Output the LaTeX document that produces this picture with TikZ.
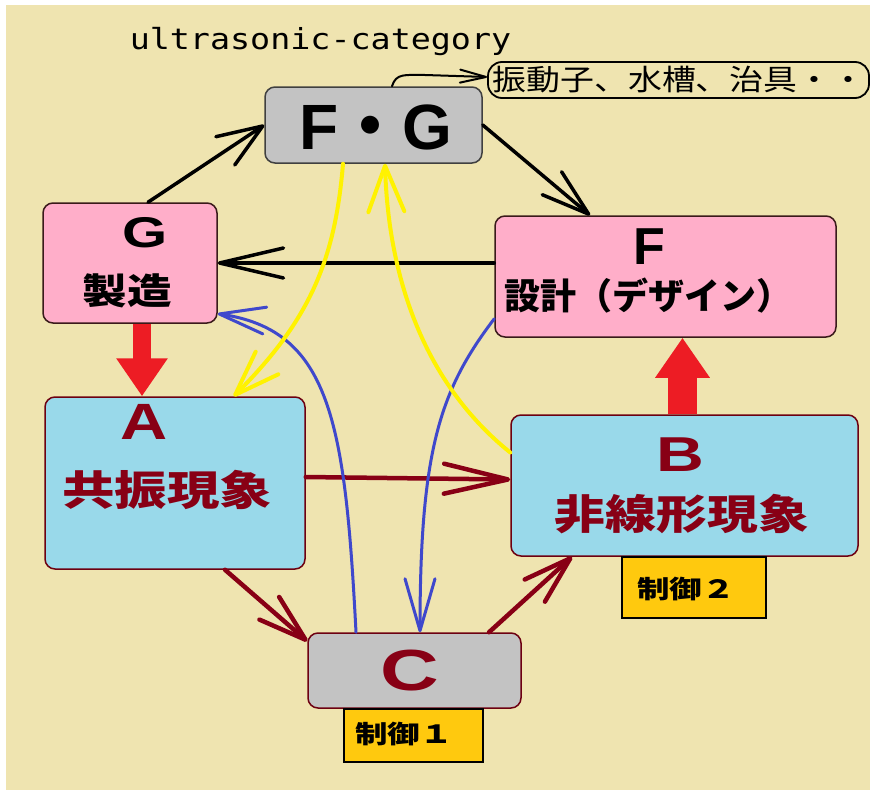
\documentclass[tikz,border=0pt]{standalone}
\usepackage{fontspec}
\usepackage{graphicx}
\setmainfont{Liberation Sans}
\newfontfamily\jp{Noto Sans CJK JP}
\newfontfamily\monof{DejaVu Sans Mono}
\usetikzlibrary{arrows.meta,calc}
\newcommand\hstretch[2]{\scalebox{#1}[1]{#2}}
\newcommand\fsz[1]{\fontsize{#1}{#1}\selectfont}
\definecolor{bgc}{HTML}{EFE4B0}
\definecolor{pinkc}{HTML}{FFAEC9}
\definecolor{bluebox}{HTML}{99D9EA}
\definecolor{grayc}{HTML}{C3C3C3}
\definecolor{redc}{HTML}{ED1C24}
\definecolor{darkredc}{HTML}{880015}
\definecolor{yellowc}{HTML}{FFF200}
\definecolor{goldc}{HTML}{FFC90E}
\definecolor{bluec}{HTML}{3F48CC}
\definecolor{edgec}{HTML}{3A1A1A}
\begin{document}
\begin{tikzpicture}[x=1pt,y=-1pt,
  box/.style={draw=edgec, rounded corners=10pt, inner sep=0pt, line width=1.5pt},
  ctrlbox/.style={draw=black, fill=goldc, line width=2.6pt, inner sep=0pt},
  txt/.style={inner sep=0pt, anchor=center},
  blk/.style={draw=black, line width=3.5pt, line cap=round},
  dred/.style={draw=darkredc, line width=4.5pt, line cap=round},
  blu/.style={draw=bluec, line width=3pt, line cap=round},
  yel/.style={draw=yellowc, line width=4pt, line cap=round},
  barbA/.style={-{Straight Barb[length=45pt,width=34pt,round]}},
  barbL/.style={-{Straight Barb[length=64pt,width=30pt,round]}},
  barbM/.style={-{Straight Barb[length=48pt,width=30pt,round]}},
  blockarrow/.style={draw=redc, line cap=butt}
]
\fill[white] (0,0) rectangle (872,792);
\fill[bgc] (6,5) rectangle (870,790);
\useasboundingbox (0,0) rectangle (872,792);

% boxes
\node[box, fill=grayc, draw=black!75, minimum width=217pt, minimum height=76pt] (FG) at (373.5,125) {};
\node[box, fill=pinkc, minimum width=174pt, minimum height=120pt] (G) at (130,263) {};
\node[box, fill=pinkc, minimum width=341pt, minimum height=121pt] (F) at (665.5,276.5) {};
\node[box, fill=bluebox, draw=darkredc!80!black, minimum width=260pt, minimum height=172pt] (A) at (175,483) {};
\node[box, fill=bluebox, draw=darkredc!80!black, minimum width=347pt, minimum height=141pt] (B) at (684.5,485.5) {};
\node[box, fill=grayc, draw=darkredc!80!black, minimum width=213pt, minimum height=75pt] (C) at (414.5,670.5) {};
\node[ctrlbox, minimum width=139pt, minimum height=53pt] (K1) at (413.5,735.5) {};
\node[ctrlbox, minimum width=144pt, minimum height=61pt] (K2) at (694,587.5) {};
\node[draw=black, rounded corners=14pt, line width=1.8pt, inner sep=0pt, minimum width=381pt, minimum height=36pt] (P) at (678.5,80) {};

% red block arrows
\draw[blockarrow, line width=18pt, -{Triangle[length=38pt,width=49pt]}] ([xshift=12pt]G.south) -- ([xshift=12pt]G.south |- A.north);
\draw[blockarrow, line width=29pt, -{Triangle[length=40pt,width=52pt]}] ([xshift=-2pt]B.north) -- ([xshift=-2pt]B.north |- F.south);

% black connectors
\draw[blk, barbA] ([xshift=18pt]G.north) -- (FG.west);
\draw[blk, barbM] (FG.east) -- ([xshift=-75.5pt]F.north);
\draw[blk, barbL] (F.west |- G.east) -- (G.east);
\coordinate (Pin) at ([yshift=3pt]P.west);
\draw[black, line width=2pt, line cap=round, -{Straight Barb[length=26pt,width=13pt,round]}]
  ([xshift=18.5pt]FG.north) .. controls (396,73) and (405,75) .. (425,75) -- (Pin);

% dark red connectors
\draw[dred, barbL] ([yshift=6pt]A.east) -- ([yshift=6pt]B.west);
\draw[dred, barbM] ([xshift=50pt]A.south) -- ([yshift=-9pt]C.north west);
\draw[dred, barbM] ([xshift=74.5pt]C.north) -- ([xshift=-112.5pt]B.south);

% blue connectors
\draw[blu, -{Straight Barb[length=46pt,width=27pt,round]}]
  ([xshift=-58.5pt]C.north) .. controls (345,420) and (330,330) .. ([yshift=10pt]G.south east);
\draw[blu, -{Straight Barb[length=52pt,width=30pt,round]}]
  ([yshift=19pt]F.south west) .. controls (440,390) and (420,450) .. ([xshift=5.5pt]C.north);

% yellow connectors
\draw[yel, -{Straight Barb[length=45pt,width=32pt,round]}]
  ([xshift=-30.5pt]FG.south) .. controls (335,260) and (310,320) .. ([xshift=-72pt]A.north east);
\draw[yel, -{Straight Barb[length=46pt,width=36pt,round]}]
  ([yshift=33pt]B.west) .. controls (420,380) and (388,270) .. ([xshift=11.5pt]FG.south);

% texts
\node[txt] (title) at (320.5,41.5) {\hstretch{1.15}{\monof\fsz{29pt}ultrasonic-category}};
\node[txt] (tP) at (679,80) {\hstretch{1.17}{\jp\fsz{29pt}振動子、水槽、治具・・}};
\node[txt] (tFG) at (376,127) {\fsz{64pt}\bfseries F{\jp\bfseries ・}G};
\node[txt] (tG) at (145.5,232.5) {\hstretch{1.35}{\fsz{43pt}\bfseries G}};
\node[txt] (tG2) at (127.5,290.5) {\hstretch{1.24}{\jp\bfseries\fsz{36pt}製造}};
\node[txt] (tF) at (649,246.5) {\fsz{52pt}\bfseries F};
\node[txt] (tF2) at (648,296) {\jp\bfseries\fsz{36pt}設計（デザイン）};
\node[txt, text=darkredc] (tA) at (144.5,421.5) {\hstretch{1.28}{\fsz{51pt}\bfseries A}};
\node[txt, text=darkredc] (tA2) at (167,489.5) {\hstretch{1.28}{\jp\bfseries\fsz{41pt}共振現象}};
\node[txt, text=darkredc] (tB) at (680.5,454.5) {\hstretch{1.35}{\fsz{49pt}\bfseries B}};
\node[txt, text=darkredc] (tB2) at (682,514.5) {\hstretch{1.24}{\jp\bfseries\fsz{41pt}非線形現象}};
\node[txt, text=darkredc] (tC) at (409.5,671) {\hstretch{1.4}{\fsz{58pt}\bfseries C}};
\node[txt] (tK1) at (404,734) {\hstretch{1.3}{\jp\bfseries\fsz{25pt}制御１}};
\node[txt] (tK2) at (686,589) {\hstretch{1.3}{\jp\bfseries\fsz{25pt}制御２}};
\end{tikzpicture}
\end{document}
